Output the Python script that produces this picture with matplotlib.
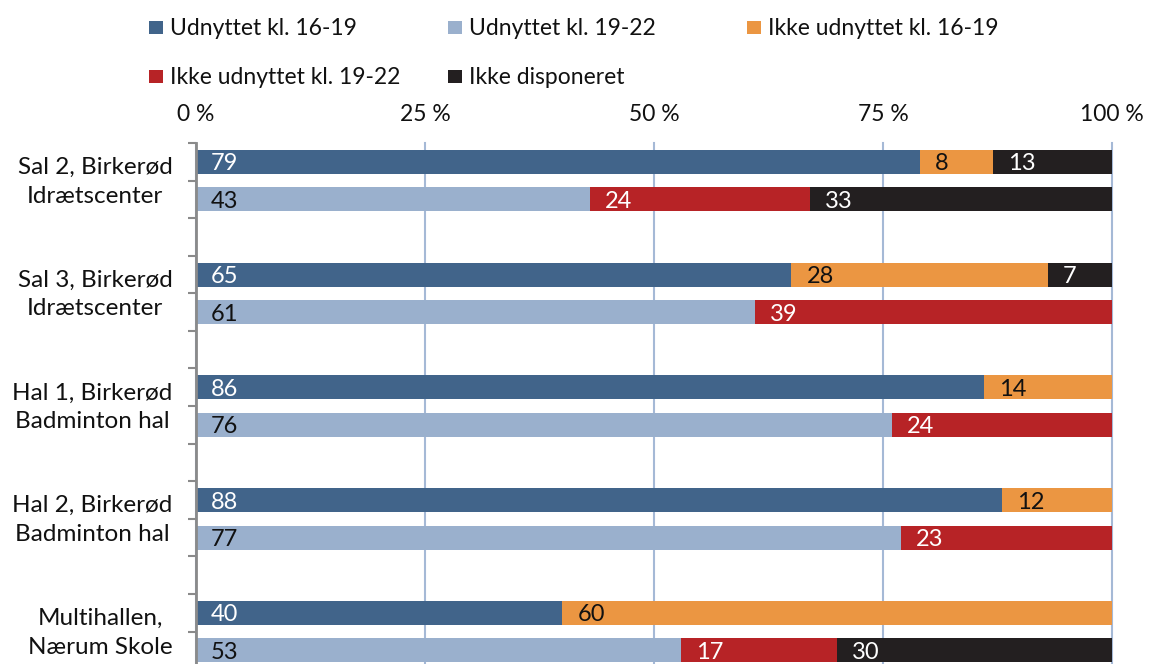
import matplotlib
matplotlib.use("Agg")
import matplotlib.pyplot as plt
from matplotlib.patches import Rectangle

plt.rcParams["font.family"] = ["Lato", "DejaVu Sans"]

# Facilities (two bars each: kl. 16-19 and kl. 19-22)
categories = [
    "Sal 2, Birkerød\nIdrætscenter",
    "Sal 3, Birkerød\nIdrætscenter",
    "Hal 1, Birkerød\nBadminton hal",
    "Hal 2, Birkerød\nBadminton hal",
    "Multihallen,\nNærum Skole",
]

# Shares in percent, one value per facility
used_16_19 = [79, 65, 86, 88, 40]
unused_16_19 = [8, 28, 14, 12, 60]
undisposed_16_19 = [13, 7, 0, 0, 0]

used_19_22 = [43, 61, 76, 77, 53]
unused_19_22 = [24, 39, 24, 23, 17]
undisposed_19_22 = [33, 0, 0, 0, 30]

series_names = [
    "Udnyttet kl. 16-19",
    "Udnyttet kl. 19-22",
    "Ikke udnyttet kl. 16-19",
    "Ikke udnyttet kl. 19-22",
    "Ikke disponeret",
]
x_ticks = [0, 25, 50, 75, 100]
x_tick_labels = ["0 %", "25 %", "50 %", "75 %", "100 %"]

DARK_BLUE = "#41648A"
LIGHT_BLUE = "#9AB0CD"
ORANGE = "#EB9642"
RED = "#B72326"
BLACK = "#231F20"
GRID = "#A5B9D6"
SPINE = "#8A8A8A"

series_colors = [DARK_BLUE, LIGHT_BLUE, ORANGE, RED, BLACK]

W, H = 1149, 664
fig = plt.figure(figsize=(W / 100, H / 100), dpi=100)

top_px, left_px, right_px = 143, 196, 1112
ax = fig.add_axes([left_px / W, 0, (right_px - left_px) / W, (H - top_px) / H])

slot_px = 37.58
y_bottom = (H - top_px) / slot_px
bar_h = 24 / slot_px
FS = 16.5


def label_color(fill):
    return "white" if fill in (DARK_BLUE, RED, BLACK) else "#111111"


def draw_bar(y, parts):
    left = 0
    for value, color in parts:
        if value > 0:
            ax.barh(y, value, left=left, height=bar_h, color=color,
                    edgecolor="none", zorder=2)
            ax.annotate(f"{value}", xy=(left, y), xytext=(15, -2),
                        textcoords="offset pixels", ha="left", va="center",
                        fontsize=FS + 0.5, color=label_color(color), zorder=3)
        left += value


for i in range(len(categories)):
    base = 3 * i
    draw_bar(base + 0.5, [(used_16_19[i], DARK_BLUE),
                          (unused_16_19[i], ORANGE),
                          (undisposed_16_19[i], BLACK)])
    draw_bar(base + 1.5, [(used_19_22[i], LIGHT_BLUE),
                          (unused_19_22[i], RED),
                          (undisposed_19_22[i], BLACK)])

ax.set_xlim(0, 100)
ax.set_ylim(y_bottom, 0)

# Top percentage axis with vertical grid lines
ax.xaxis.tick_top()
ax.set_xticks(x_ticks)
ax.set_xticklabels(x_tick_labels, fontsize=FS, color="#111111")
ax.tick_params(axis="x", length=0, pad=13)
ax.grid(axis="x", color=GRID, linewidth=1.5, zorder=0)
ax.set_axisbelow(True)
for gl in ax.get_xgridlines():
    gl.set_clip_on(False)

# Category axis: tick marks at every slot boundary, labels at group centres
ax.yaxis.remove_overlapping_locs = False
ax.set_yticks(range(0, 14))
ax.set_yticklabels([])
ax.tick_params(axis="y", which="major", length=6, width=1.5, color=SPINE,
               direction="out")
ax.set_yticks([3 * i + 0.88 for i in range(len(categories))], minor=True)
ax.set_yticklabels(categories, minor=True, fontsize=FS + 1, color="#111111",
                   multialignment="center", linespacing=1.45)
ax.tick_params(axis="y", which="minor", length=0, pad=17)

for side in ("top", "right", "bottom"):
    ax.spines[side].set_visible(False)
ax.spines["left"].set_color(SPINE)
ax.spines["left"].set_linewidth(2)

# Legend laid out in fixed-width columns
col_x = [149, 448, 747]
row_base = [35, 84]
for k, (name, color) in enumerate(zip(series_names, series_colors)):
    cx = col_x[k % 3]
    by = row_base[k // 3]
    fig.add_artist(Rectangle((cx / W, 1 - (by - 1) / H), 14 / W, 13 / H,
                             transform=fig.transFigure, color=color,
                             linewidth=0))
    fig.text((cx + 21) / W, 1 - by / H, name, fontsize=FS, color="#111111",
             ha="left", va="baseline")

fig.savefig("out.png", dpi=100)
